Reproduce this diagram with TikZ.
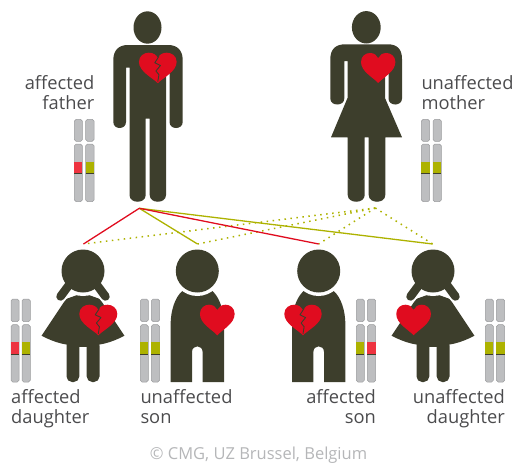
\documentclass[tikz,border=0pt]{standalone}
\usepackage{fontspec}
\setmainfont{Open Sans}
\definecolor{fig}{HTML}{3D3E2C}
\definecolor{hrt}{HTML}{E00C1F}
\definecolor{oliv}{HTML}{ADB200}
\definecolor{chrom}{HTML}{BDBEC0}
\definecolor{chromedge}{HTML}{9A9B9D}
\definecolor{bandred}{HTML}{EE3340}
\definecolor{lbl}{HTML}{4B4B4D}
\definecolor{copy}{HTML}{B5B6B8}
\tikzset{
  figure/.style={fill=fig,draw=none},
  heartshape/.style={fill=hrt,draw=none},
  crack/.style={draw=fig,line width=0.9pt,line join=round},
  chromarm/.style={fill=chrom,draw=chromedge,line width=0.5pt,rounded corners=1.8pt},
  label/.style={font=\fontsize{18.3}{20.7}\selectfont,text=lbl,inner sep=0pt,align=left},
  redline/.style={draw=hrt,line width=1.3pt},
  olivline/.style={draw=oliv,line width=1.3pt},
  dotline/.style={draw=oliv,line width=1.5pt,dash pattern=on 1.5pt off 4.5pt},
  halo/.style={fill=white,draw=none}
}
% heart: centre x, top y, width, height
\newcommand{\heartat}[4]{%
  \begin{scope}[shift={(#1,#2)},xscale=#3,yscale=#4]
    \fill[heartshape] (0,1) .. controls (-0.14,0.82) and (-0.5,0.62) .. (-0.5,0.3)
      .. controls (-0.5,0.1) and (-0.36,0) .. (-0.24,0)
      .. controls (-0.12,0) and (-0.04,0.07) .. (0,0.17)
      .. controls (0.04,0.07) and (0.12,0) .. (0.24,0)
      .. controls (0.36,0) and (0.5,0.1) .. (0.5,0.3)
      .. controls (0.5,0.62) and (0.14,0.82) .. (0,1) -- cycle;
  \end{scope}}
\newcommand{\crackat}[4]{%
  \begin{scope}[shift={(#1,#2)},xscale=#3,yscale=#4]
    \draw[crack] (0.03,0.12) -- (-0.08,0.33) -- (0.07,0.42) -- (-0.05,0.6) -- (0.03,0.72) -- (0,0.95);
  \end{scope}}
% chromosome: left x, right x, arm top, arm bottom, long top, long bottom, band top, band colour
\newcommand{\chromo}[8]{%
  \path[chromarm] (#1,#3) rectangle (#2,#4);
  \path[chromarm] (#1,#5) rectangle (#2,#6);
  \fill[#8] (#1,#7) rectangle (#2,#7+11.5);
  \draw[fig,line width=0.6pt] (#1,#7+11.5) -- (#2,#7+11.5);}
\newcommand{\adultchrom}[4]{\chromo{#1}{#2}{119.3}{141.3}{144}{201.7}{162}{#3}\chromo{#2+3.3}{#2+11.6}{119.3}{141.3}{144}{201.7}{162}{#4}}
\newcommand{\kidchrom}[4]{\chromo{#1}{#2}{299}{321.7}{324.7}{382}{342.3}{#3}\chromo{#2+3}{#2+11.3}{299}{321.7}{324.7}{382}{342.3}{#4}}
% child figures: centre x
\newcommand{\girl}[1]{%
  \begin{scope}[shift={(#1,0)}]
    \fill[figure] (-3,294) -- (-17,299) -- (-41.4,335.7)
      .. controls (-28,343) and (-15,346) .. (0,346) .. controls (15,346) and (28,343) .. (41.4,335.7)
      -- (17,299) -- (3,294) -- cycle;
    \fill[figure,rounded corners=5.5pt] (-16.5,340) -- (-16.5,382) -- (-3.7,382) -- (-3.7,340) -- cycle;
    \fill[figure,rounded corners=5.5pt] (3.7,340) -- (3.7,382) -- (16.5,382) -- (16.5,340) -- cycle;
    \fill[figure] (-3.7,340) rectangle (3.7,347);
    \draw[white,line width=11.5pt,line cap=round] (-22.5,297) -- (-14,287);
    \draw[white,line width=11.5pt,line cap=round] (22.5,297) -- (14,287);
    \fill[halo] (0,271) circle[radius=25];
    \draw[fig,line width=8.5pt,line cap=round] (-22.5,296.5) -- (-14,285);
    \draw[fig,line width=8.5pt,line cap=round] (22.5,296.5) -- (14,285);
    \fill[figure] (0,271) circle[radius=21.5];
  \end{scope}}
\newcommand{\boy}[1]{%
  \begin{scope}[shift={(#1,0)}]
    \fill[figure] (-26.7,382) -- (-26.7,325) .. controls (-26.7,310) and (-22,297) .. (-15,291)
      -- (15,291) .. controls (22,297) and (26.7,310) .. (26.7,325) -- (26.7,382)
      -- (5.3,382) -- (5.3,352) .. controls (5.3,344.5) and (-5.3,344.5) .. (-5.3,352) -- (-5.3,382) -- cycle;
    \fill[halo] (0,271) circle[radius=25];
    \fill[figure] (0,271) circle[radius=21.5];
  \end{scope}}
\begin{document}
\begin{tikzpicture}[x=1pt,y=-1pt]
\useasboundingbox (0,0) rectangle (514,466);
% coordinates for connectors
\coordinate (fatherapex) at (139.3,208.3);
\coordinate (motherapex) at (375.3,208);
\coordinate (affdaughter) at (83.5,244);
\coordinate (unson) at (197.5,244);
\coordinate (affson) at (318.7,244);
\coordinate (undaughter) at (432.7,244);
% dotted connectors
\draw[dotline] (motherapex) -- (affdaughter);
\draw[dotline] (motherapex) -- (unson);
\draw[dotline] (motherapex) -- (affson);
\draw[dotline] (motherapex) -- (undaughter);
% solid connectors
\draw[olivline] (fatherapex) -- (unson);
\draw[olivline] (fatherapex) -- (undaughter);
\draw[redline] (fatherapex) -- (affdaughter);
\draw[redline] (fatherapex) -- (affson);
% father
\fill[figure] (147.5,27.5) ellipse[x radius=14,y radius=16.2];
\fill[figure] (113.3,122) -- (113.3,60) .. controls (113.3,50) and (119,45) .. (128,45)
  -- (168,45) .. controls (177,45) and (182.7,50) .. (182.7,60) -- (182.7,122)
  .. controls (182.7,130) and (169.5,130) .. (169.5,122) -- (169.5,67.5) -- (166,67.5)
  -- (166,195) .. controls (166,204) and (149.7,204) .. (149.7,195) -- (149.7,118.5) -- (145.7,118.5)
  -- (145.7,195) .. controls (145.7,204) and (129.5,204) .. (129.5,195) -- (129.5,67.5) -- (126,67.5)
  -- (126,122) .. controls (126,130) and (113.3,130) .. (113.3,122) -- cycle;
\heartat{157.8}{52.7}{37.7}{30.5}
\crackat{157.8}{52.7}{37.7}{30.5}
% mother
\fill[figure] (366.3,27.3) ellipse[x radius=14.4,y radius=16.2];
\fill[figure] (330.3,98.5) -- (330.3,59) .. controls (330.3,49) and (336,44.3) .. (345,44.3)
  -- (388,44.3) .. controls (397,44.3) and (402,49) .. (402,59) -- (402,98.5)
  .. controls (402,106.5) and (388.5,106.5) .. (388.5,98.5) -- (388.5,61) -- (385,61)
  -- (385,98) -- (402,137.3) -- (385.3,137.3)
  -- (385.3,195) .. controls (385.3,204) and (368.7,204) .. (368.7,195) -- (368.7,137.3) -- (364.7,137.3)
  -- (364.7,195) .. controls (364.7,204) and (347.7,204) .. (347.7,195) -- (347.7,137.3) -- (331,137.3)
  -- (347.5,98) -- (347.5,61) -- (344.3,61) -- (344.3,98.5)
  .. controls (344.3,106.5) and (330.3,106.5) .. (330.3,98.5) -- cycle;
\heartat{378.2}{53}{34.4}{30}
% children
\girl{83}
\heartat{98.3}{304.7}{38}{30.6}
\crackat{98.3}{304.7}{38}{30.6}
\boy{197.3}
\heartat{217.3}{304.7}{34.7}{30.6}
\boy{318.7}
\heartat{303}{304.7}{37.4}{30.6}
\crackat{303}{304.7}{37.4}{30.6}
\girl{433}
\heartat{413.6}{304.7}{34.7}{30.6}
% chromosomes
\adultchrom{74.3}{82.4}{bandred}{oliv}
\adultchrom{421.3}{429.7}{oliv}{oliv}
\kidchrom{11}{19}{bandred}{oliv}
\kidchrom{140.3}{148.3}{oliv}{oliv}
\kidchrom{356.3}{364.4}{oliv}{bandred}
\kidchrom{485.3}{493.4}{oliv}{oliv}
% labels
\node[label,anchor=north east,align=right] (lf) at (94.5,75) {affected\\father};
\node[label,anchor=north west] (lm) at (421.3,75) {unaffected\\mother};
\node[label,anchor=north west] (ld) at (11,389) {affected\\daughter};
\node[label,anchor=north west] (ls) at (140.3,389) {unaffected\\son};
\node[label,anchor=north east,align=right] (las) at (376,389) {affected\\son};
\node[label,anchor=north east,align=right] (lud) at (505,389) {unaffected\\daughter};
\node[font=\fontsize{16.5}{20}\selectfont,text=copy,inner sep=0pt] (cr) at (258.5,455) {© CMG, UZ Brussel, Belgium};
\end{tikzpicture}
\end{document}
